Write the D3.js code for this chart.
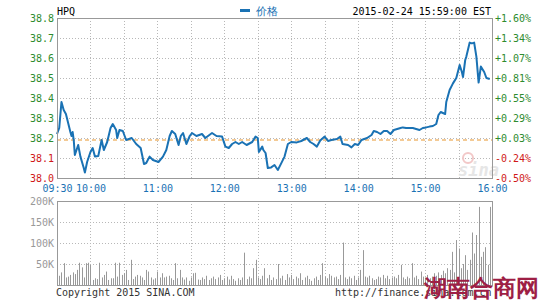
<!DOCTYPE html>
<html>
<head>
<meta charset="UTF-8">
<title>HPQ</title>
<script src="https://cdn.jsdelivr.net/npm/d3@7/dist/d3.min.js"></script>
<style>
  body { margin: 0; background: #fff; }
  svg text { font-family: "DejaVu Sans Mono", monospace; }
</style>
</head>
<body>
<div id="chart"></div>
<script>
// minutes after 09:30 and the price at that minute
const priceTimes = [0, 2, 4, 6, 8, 12, 13, 14, 15, 16, 19, 21, 24, 25, 27, 30, 32, 34, 37, 40,
  42, 45, 48, 50, 53, 54, 56, 59, 62, 67, 71, 75, 78, 80, 83, 86, 91, 95, 98, 101,
  103, 106, 109, 111, 113, 116, 119, 121, 125, 130, 133, 139, 143, 148, 151, 154, 157, 160, 163, 166,
  170, 175, 178, 180, 181, 184, 185, 187, 189, 192, 195, 198, 201, 204, 207, 210, 215, 219, 224, 227,
  230, 233, 236, 240, 243, 246, 251, 254, 256, 261, 264, 267, 270, 273, 278, 282, 284, 287, 290, 293,
  296, 299, 302, 305, 308, 310, 313, 316, 319, 322, 325, 328, 331, 334, 337, 340, 342, 344, 348, 349,
  352, 355, 358, 361, 363, 364, 366, 367, 370, 372, 374, 376, 378, 380, 383, 385, 388];
const prices = [38.22, 38.25, 38.38, 38.34, 38.32, 38.23, 38.21, 38.23, 38.19, 38.115, 38.165, 38.107, 38.05, 38.027, 38.08, 38.13, 38.15, 38.107, 38.11, 38.19,
  38.14, 38.18, 38.25, 38.27, 38.24, 38.20, 38.24, 38.235, 38.19, 38.20, 38.17, 38.15, 38.07, 38.075, 38.107, 38.09, 38.08, 38.107, 38.14, 38.21,
  38.235, 38.22, 38.165, 38.21, 38.225, 38.17, 38.21, 38.225, 38.21, 38.22, 38.20, 38.225, 38.21, 38.207, 38.157, 38.15, 38.17, 38.18, 38.17, 38.18,
  38.165, 38.18, 38.207, 38.20, 38.13, 38.157, 38.14, 38.125, 38.05, 38.053, 38.065, 38.04, 38.073, 38.107, 38.17, 38.18, 38.178, 38.185, 38.20, 38.18,
  38.17, 38.157, 38.187, 38.207, 38.185, 38.19, 38.195, 38.207, 38.17, 38.165, 38.153, 38.17, 38.165, 38.19, 38.20, 38.215, 38.235, 38.23, 38.22, 38.235,
  38.235, 38.22, 38.24, 38.245, 38.25, 38.253, 38.25, 38.25, 38.25, 38.245, 38.24, 38.25, 38.253, 38.257, 38.26, 38.27, 38.315, 38.33, 38.32, 38.38,
  38.44, 38.473, 38.50, 38.565, 38.53, 38.505, 38.59, 38.607, 38.677, 38.673, 38.677, 38.607, 38.477, 38.557, 38.53, 38.50, 38.495];

// volume in thousands, one bar every 2 minutes from 09:30
const volumes = [12, 22, 30, 52, 18, 20, 24, 30, 26, 36, 53, 42, 18, 52, 53, 48, 12, 16, 14, 53,
  18, 24, 32, 12, 16, 16, 53, 20, 53, 24, 28, 36, 12, 60, 14, 20, 24, 22, 18, 12,
  36, 32, 18, 13, 16, 32, 18, 28, 18, 20, 22, 16, 12, 52, 16, 36, 18, 13, 18, 10,
  18, 28, 29, 13, 12, 18, 14, 22, 12, 16, 20, 14, 18, 24, 12, 16, 20, 13, 22, 14,
  10, 16, 12, 18, 77, 14, 20, 16, 40, 60, 18, 14, 22, 40, 16, 24, 12, 18, 14, 50,
  16, 22, 12, 26, 18, 24, 14, 20, 16, 28, 12, 18, 22, 14, 10, 16, 20, 12, 24, 52,
  20, 16, 26, 22, 18, 20, 14, 24, 101, 18, 14, 20, 16, 22, 12, 18, 36, 83, 20, 18,
  22, 16, 12, 14, 20, 18, 24, 16, 22, 14, 18, 20, 16, 24, 48, 18, 14, 20, 16, 52,
  18, 22, 14, 32, 20, 18, 24, 16, 20, 28, 22, 30, 24, 34, 28, 40, 36, 79, 30, 107,
  87, 40, 50, 71, 36, 60, 125, 75, 119, 186, 67, 79, 90, 48, 186];

const prevClose = 38.19;
const priceTicks = [38.0, 38.1, 38.2, 38.3, 38.4, 38.5, 38.6, 38.7, 38.8];
const pctLabels = ["-0.50%", "-0.24%", "+0.03%", "+0.29%", "+0.55%", "+0.81%", "+1.07%", "+1.34%", "+1.60%"];
const volTicks = [50, 100, 150, 200];
const timeTicks = [0, 30, 90, 150, 210, 270, 330, 390];
const timeLabels = ["09:30", "10:00", "11:00", "12:00", "13:00", "14:00", "15:00", "16:00"];
const gridTimes = d3.range(0, 391, 30);

const width = 545, height = 300;
const left = 57, right = 492;

const svg = d3.select("#chart").append("svg")
  .attr("width", width)
  .attr("height", height);

const x = d3.scaleLinear().domain([0, 390]).range([left, right]);
const yP = d3.scaleLinear().domain([38.0, 38.8]).range([178, 18]);
const yV = d3.scaleLinear().domain([0, 200]).range([285, 201]);

const green = "#2e8b2e", red = "#d01818", blue = "#1a72b4";
const gridColor = "#b8b8b8", frameColor = "#999";

// grid lines
function grid(yScale, yVals, y0, y1) {
  const g = svg.append("g");
  yVals.forEach(v => {
    g.append("line")
      .attr("x1", left).attr("x2", right)
      .attr("y1", Math.round(yScale(v)) + 0.5).attr("y2", Math.round(yScale(v)) + 0.5)
      .attr("stroke", gridColor).attr("stroke-dasharray", "1,2");
  });
  gridTimes.forEach(t => {
    g.append("line")
      .attr("x1", Math.round(x(t)) + 0.5).attr("x2", Math.round(x(t)) + 0.5)
      .attr("y1", y0).attr("y2", y1)
      .attr("stroke", gridColor).attr("stroke-dasharray", "1,2");
  });
}
grid(yP, priceTicks.slice(1, -1), 18, 178);
grid(yV, volTicks.slice(0, -1), 201, 285);

// price axes
const leftAxis = svg.append("g")
  .attr("transform", `translate(${left},0)`)
  .call(d3.axisLeft(yP).tickValues(priceTicks).tickSize(0).tickPadding(3).tickFormat(d3.format(".1f")));
leftAxis.select(".domain").remove();
leftAxis.selectAll("text")
  .attr("font-size", 10)
  .attr("font-family", "DejaVu Sans Mono")
  .attr("fill", d => d >= prevClose ? green : red);

const rightAxis = svg.append("g")
  .attr("transform", `translate(${right},0)`)
  .call(d3.axisRight(yP).tickValues(priceTicks).tickSize(0).tickPadding(3)
    .tickFormat((d, i) => pctLabels[i]));
rightAxis.select(".domain").remove();
rightAxis.selectAll("text")
  .attr("font-size", 10)
  .attr("font-family", "DejaVu Sans Mono")
  .attr("fill", d => d >= prevClose ? green : red);

// time axis
const timeAxis = svg.append("g")
  .attr("transform", "translate(0,182)")
  .call(d3.axisBottom(x).tickValues(timeTicks).tickSize(0).tickPadding(3)
    .tickFormat((d, i) => timeLabels[i]));
timeAxis.select(".domain").remove();
timeAxis.selectAll("text")
  .attr("font-size", 10)
  .attr("font-family", "DejaVu Sans Mono")
  .attr("fill", blue);

// volume axis
const volAxis = svg.append("g")
  .attr("transform", `translate(${left},0)`)
  .call(d3.axisLeft(yV).tickValues(volTicks).tickSize(0).tickPadding(3).tickFormat(d => d + "K"));
volAxis.select(".domain").remove();
volAxis.selectAll("text")
  .attr("font-size", 10)
  .attr("font-family", "DejaVu Sans Mono")
  .attr("fill", "#999");

// previous close
svg.append("line")
  .attr("x1", left).attr("x2", right)
  .attr("y1", yP(prevClose)).attr("y2", yP(prevClose))
  .attr("stroke", "#e8952c").attr("stroke-width", 1)
  .attr("stroke-dasharray", "4,3");

// sina watermark
svg.append("text")
  .attr("x", 458).attr("y", 176)
  .attr("font-family", "DejaVu Sans")
  .attr("font-style", "italic")
  .attr("font-weight", "bold")
  .attr("font-size", 17)
  .attr("fill", "#e6e6e6")
  .text("sina");
svg.append("circle")
  .attr("cx", 468).attr("cy", 158).attr("r", 5)
  .attr("fill", "none").attr("stroke", "#f2c8c8").attr("stroke-width", 2);

// volume bars
svg.append("g")
  .selectAll("line")
  .data(volumes)
  .join("line")
  .attr("x1", (d, i) => Math.round(x(i * 2)) + 0.5)
  .attr("x2", (d, i) => Math.round(x(i * 2)) + 0.5)
  .attr("y1", yV(0))
  .attr("y2", d => yV(d))
  .attr("stroke", "#999")
  .attr("stroke-width", 1);

// price line
const priceData = priceTimes.map((t, i) => ({ t: t, p: prices[i] }));
svg.append("path")
  .datum(priceData)
  .attr("fill", "none")
  .attr("stroke", blue)
  .attr("stroke-width", 2)
  .attr("stroke-linejoin", "round")
  .attr("d", d3.line().x(d => x(d.t)).y(d => yP(d.p)));

// frames
[[18, 178], [201, 285]].forEach(([y0, y1]) => {
  svg.append("rect")
    .attr("x", left + 0.5).attr("y", y0 + 0.5)
    .attr("width", right - left).attr("height", y1 - y0)
    .attr("fill", "none").attr("stroke", frameColor);
});

// header
svg.append("text").attr("x", 57).attr("y", 15)
  .attr("font-size", 10).attr("fill", "#000").text("HPQ");
svg.append("rect").attr("x", 240).attr("y", 9).attr("width", 10).attr("height", 3).attr("fill", blue);
svg.append("text").attr("x", 256).attr("y", 15)
  .attr("font-family", "Noto Sans CJK SC").attr("font-size", 11).attr("fill", blue).text("价格");
svg.append("text").attr("x", 491).attr("y", 15).attr("text-anchor", "end")
  .attr("font-size", 10).attr("fill", "#000").text("2015-02-24 15:59:00 EST");

// footer
svg.append("text").attr("x", 56).attr("y", 296)
  .attr("font-size", 10).attr("fill", "#333").text("Copyright 2015 SINA.COM");
svg.append("text").attr("x", 335).attr("y", 296)
  .attr("font-size", 10).attr("fill", "#333").text("http://finance.sina.com.cn");

// site watermark
svg.append("text").attr("x", 424).attr("y", 296)
  .attr("font-family", "Noto Sans CJK SC").attr("font-weight", "bold")
  .attr("font-size", 23).attr("fill", "#9e1f45")
  .text("湖南合商网");
</script>
</body>
</html>
